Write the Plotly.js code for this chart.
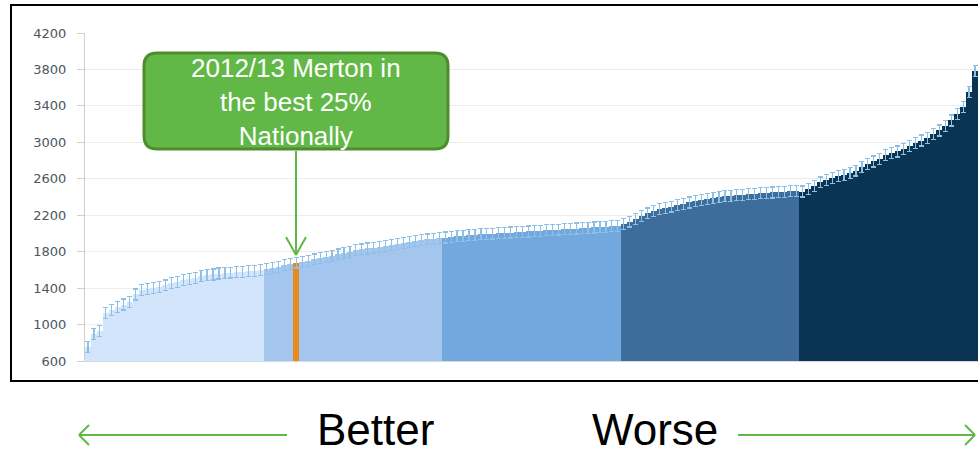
<!DOCTYPE html>
<html>
<head>
<meta charset="utf-8">
<script src="https://cdn.plot.ly/plotly-3.0.1.min.js"></script>
<style>
html,body{margin:0;padding:0;background:#fff;}
#chart{width:978px;height:456px;}
</style>
</head>
<body>
<div id="chart"></div>
<script>
// Ranked values (best -> worst), split by quintile band
const band1 = [750, 900, 930, 1130, 1160, 1190, 1220, 1250, 1330, 1380, 1390, 1400, 1410, 1430, 1460, 1470, 1490, 1500, 1510, 1530, 1540, 1550, 1560, 1565, 1570, 1575, 1580, 1585, 1590, 1600];
const band2 = [1610, 1620, 1635, 1650, 1665, 1680, 1690, 1700, 1715, 1730, 1745, 1755, 1770, 1785, 1800, 1815, 1825, 1835, 1845, 1855, 1865, 1875, 1885, 1895, 1905, 1915, 1925, 1935, 1940, 1950];
const band3 = [1955, 1962, 1968, 1974, 1980, 1985, 1990, 1994, 1998, 2002, 2006, 2010, 2014, 2018, 2022, 2026, 2030, 2034, 2038, 2042, 2046, 2050, 2054, 2058, 2062, 2066, 2070, 2074, 2078, 2082];
const band4 = [2100, 2130, 2160, 2190, 2220, 2245, 2265, 2280, 2295, 2310, 2325, 2340, 2355, 2365, 2380, 2390, 2400, 2408, 2415, 2420, 2425, 2430, 2435, 2440, 2445, 2450, 2455, 2458, 2462, 2466];
const band5 = [2460, 2490, 2520, 2560, 2590, 2610, 2630, 2645, 2660, 2690, 2730, 2760, 2790, 2820, 2860, 2880, 2900, 2930, 2960, 2990, 3020, 3050, 3090, 3130, 3180, 3240, 3310, 3390, 3550, 3780];
const bands = [band1, band2, band3, band4, band5];
const bandColors = ['#d3e5fb', '#a3c5ee', '#73a8df', '#3e6d9b', '#0a3552'];
const mertonRank = 36;          // 1-based rank of Merton
const mertonColor = '#e8891c';
const errorMargin = 60;
const yTicks = [600, 1000, 1400, 1800, 2200, 2600, 3000, 3400, 3800, 4200];
const boxText = ['2012/13 Merton in', 'the best 25%', 'Nationally'];
const leftLabel = 'Better';
const rightLabel = 'Worse';

// build
const values = [].concat(...bands);
const ranks = values.map((v, i) => i + 1);
const colors = [];
bands.forEach((b, k) => b.forEach(() => colors.push(bandColors[k])));
colors[mertonRank - 1] = mertonColor;

const W = 978, H = 456, L = 85, R = 0, T = 33, B = 95;
const pw = W - L - R, ph = H - T - B;
const px = x => (x - L) / pw;
const py = y => (H - B - y) / ph;

function roundRect(x0, y0, x1, y1, r) {
  const p = (x, y) => px(x).toFixed(5) + ',' + py(y).toFixed(5);
  return 'M' + p(x0 + r, y0) + ' L' + p(x1 - r, y0) + ' Q' + p(x1, y0) + ' ' + p(x1, y0 + r) +
    ' L' + p(x1, y1 - r) + ' Q' + p(x1, y1) + ' ' + p(x1 - r, y1) +
    ' L' + p(x0 + r, y1) + ' Q' + p(x0, y1) + ' ' + p(x0, y1 - r) +
    ' L' + p(x0, y0 + r) + ' Q' + p(x0, y0) + ' ' + p(x0 + r, y0) + ' Z';
}
const green = '#5fb847';
function seg(x0, y0, x1, y1, color, w) {
  return {type: 'line', xref: 'paper', yref: 'paper', x0: px(x0), y0: py(y0), x1: px(x1), y1: py(y1),
    line: {color: color, width: w}, layer: 'above'};
}

const trace = {
  type: 'bar',
  x: ranks,
  y: values,
  marker: {color: colors, line: {width: 0}},
  error_y: {type: 'constant', value: errorMargin, color: '#8cc0e6', thickness: 1.2, width: 2.5},
  hoverinfo: 'x+y'
};

const shapes = [
  // outer frame
  {type: 'rect', xref: 'paper', yref: 'paper', x0: px(11), y0: py(381), x1: px(981), y1: py(5),
    line: {color: '#000', width: 2}, fillcolor: 'rgba(0,0,0,0)', layer: 'above'},
  // callout box
  {type: 'path', xref: 'paper', yref: 'paper', path: roundRect(144, 53, 448, 149, 13),
    fillcolor: '#62b846', line: {color: '#4d8d2f', width: 3}, layer: 'above'},
  // callout arrow
  seg(296, 151, 296, 255, green, 2),
  seg(286, 237, 296, 255, green, 2),
  seg(306, 237, 296, 255, green, 2),
  // bottom arrows
  seg(287, 435, 79, 435, green, 2),
  seg(79, 435, 89, 425, green, 2),
  seg(79, 435, 89, 445, green, 2),
  seg(738, 435, 975, 435, green, 2),
  seg(975, 435, 965, 425, green, 2),
  seg(975, 435, 965, 445, green, 2)
];

const annotations = [
  {xref: 'paper', yref: 'paper', x: px(296), y: py(102), xanchor: 'center', yanchor: 'middle',
    text: boxText.join('<br>'), showarrow: false, align: 'center',
    font: {family: 'Liberation Sans, Arial, sans-serif', size: 26, color: '#ffffff'}},
  {xref: 'paper', yref: 'paper', x: px(375), y: py(429), xanchor: 'center', yanchor: 'middle',
    text: leftLabel, showarrow: false,
    font: {family: 'Liberation Sans, Arial, sans-serif', size: 44, color: '#000'}},
  {xref: 'paper', yref: 'paper', x: px(655), y: py(429), xanchor: 'center', yanchor: 'middle',
    text: rightLabel, showarrow: false,
    font: {family: 'Liberation Sans, Arial, sans-serif', size: 44, color: '#000'}}
];

const layout = {
  width: W, height: H,
  margin: {l: L, r: R, t: T, b: B, pad: 0},
  paper_bgcolor: '#fff', plot_bgcolor: '#fff',
  showlegend: false,
  bargap: 0,
  xaxis: {range: [0.5, values.length + 0.5], showticklabels: false, ticks: '', showgrid: false,
    zeroline: false, showline: true, linecolor: '#d4dbe3', linewidth: 1},
  yaxis: {range: [600, 4200], tickvals: yTicks, ticktext: yTicks.map(String),
    showgrid: true, gridcolor: '#ececec', gridwidth: 1, zeroline: false,
    showline: true, linecolor: '#cfcfcf', linewidth: 1,
    ticks: 'outside', ticklen: 7, tickcolor: '#cfcfcf', tickwidth: 1,
    ticklabelstandoff: 8,
    tickfont: {family: 'DejaVu Sans, Verdana, sans-serif', size: 13, color: '#4c5660'}},
  shapes: shapes,
  annotations: annotations
};

Plotly.newPlot('chart', [trace], layout, {displayModeBar: false, staticPlot: true});
</script>
</body>
</html>
